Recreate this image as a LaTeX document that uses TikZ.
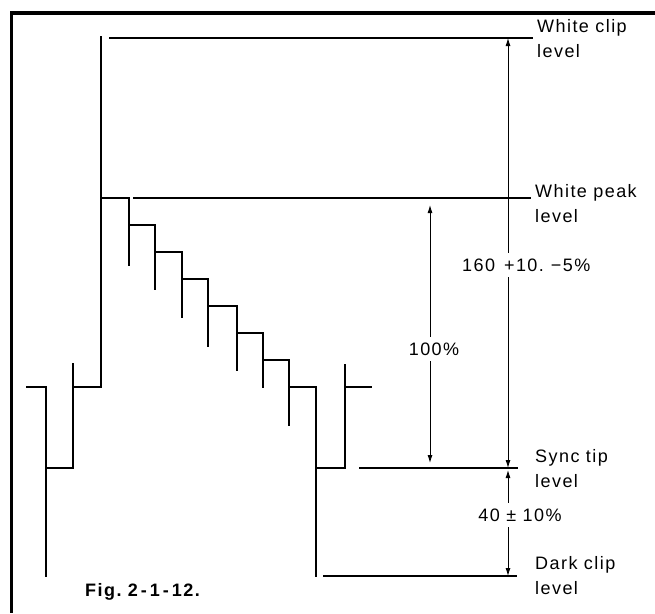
\documentclass[tikz,border=0pt]{standalone}
\usepackage{fontspec}
\setmainfont{Liberation Sans}[LetterSpace=8]
\usetikzlibrary{arrows.meta}

\tikzset{
  wave/.style={line width=2pt, line cap=rect},
  lvl/.style={line width=1.6pt},
  dim/.style={line width=0.9pt, {Latex[length=8pt,width=5pt]}-{Latex[length=8pt,width=5pt]}},
  lbl/.style={font=\fontsize{18}{25}\selectfont, align=left, anchor=base west, inner sep=0pt},
  val/.style={font=\fontsize{18}{22}\selectfont, fill=white, inner sep=0pt, inner ysep=6pt}
}

\begin{document}
\begin{tikzpicture}[x=1pt, y=-1pt]
  \useasboundingbox (0,0) rectangle (655,613);

  % Frame
  \draw[line width=4pt] (12,12.5) -- (655,12.5);
  \draw[line width=3pt] (11.5,11) -- (11.5,613);

  % Waveform
  \draw[wave] (27,387) -- (46,387) -- (46,576);
  \draw[wave] (46,468) -- (73,468) -- (73,364);
  \draw[wave] (73,387) -- (101,387) -- (101,37);
  \foreach \px/\x/\lv/\bt in {101/129/198/265, 129/155/225/289, 155/182/252/317,
      182/208/279/346, 208/237/306/370, 237/263/333/387, 263/289/360/425, 289/316/387/576}
    \draw[wave] (\px,\lv) -- (\x,\lv) -- (\x,\bt);
  \draw[wave] (316,468) -- (345,468) -- (345,365);
  \draw[wave] (345,387) -- (371,387);

  % Levels
  \coordinate (clipL) at (109,38);  \coordinate (clipR) at (533,38);
  \coordinate (peakL) at (133,198); \coordinate (peakR) at (531,198);
  \coordinate (syncL) at (359,468); \coordinate (syncR) at (518,468);
  \coordinate (darkL) at (323,576); \coordinate (darkR) at (517,576);
  \foreach \a in {clip, peak, sync, dark}
    \draw[lvl] (\a L) -- (\a R);

  % (base anchor sits on the second line)
  \node[lbl] (clipT) at (537,57)  {White clip\\level};
  \node[lbl] (peakT) at (535,222) {White peak\\level};
  \node[lbl] (syncT) at (535,487) {Sync tip\\level};
  \node[lbl] (darkT) at (535,594) {Dark clip\\level};

  % Dimensions
  \coordinate (bigTop) at (508,38);  \coordinate (bigBot) at (508,468);
  \coordinate (fullTop) at (430,205); \coordinate (fullBot) at (430,463);
  \coordinate (lowTop) at (508,470); \coordinate (lowBot) at (508,576);
  \draw[dim] (bigTop) -- (bigBot);
  \draw[dim] (fullTop) -- (fullBot);
  \draw[dim] (lowTop) -- (lowBot);
  \node[val, anchor=west] (bigV) at (462,265) {160\hspace{9pt}+10.\hspace{7pt}−5\%};
  \node[val] (fullV) at (434,349) {100\%};
  \node[val] (lowV) at (520,515) {40 ± 10\%};

  \node[font=\bfseries\fontsize{18}{22}\selectfont, anchor=base west, inner sep=0pt] (fig) at (85,596) {Fig.\ 2\,-\,1\,-\,12.};
\end{tikzpicture}
\end{document}
